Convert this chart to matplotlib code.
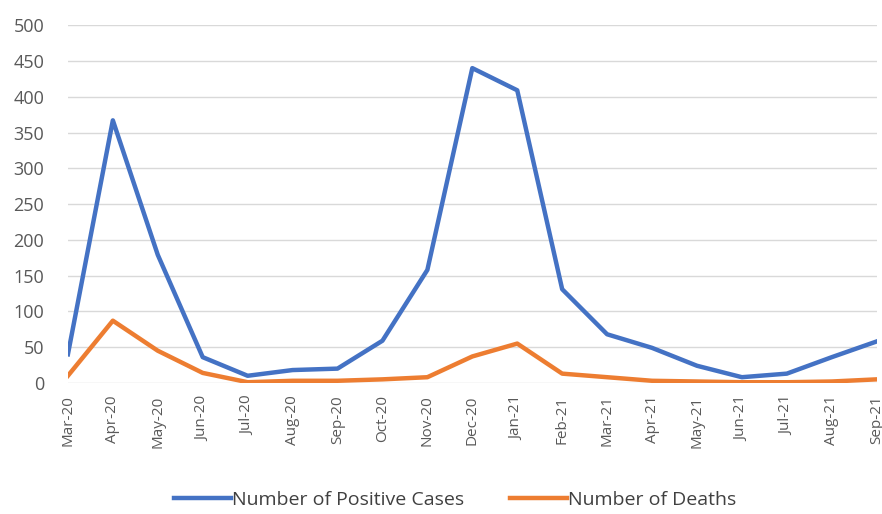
import matplotlib.pyplot as plt

months = ["Mar-20", "Apr-20", "May-20", "Jun-20", "Jul-20", "Aug-20", "Sep-20",
          "Oct-20", "Nov-20", "Dec-20", "Jan-21", "Feb-21", "Mar-21", "Apr-21",
          "May-21", "Jun-21", "Jul-21", "Aug-21", "Sep-21"]
positive_cases = [40, 367, 179, 36, 10, 18, 20, 59, 158, 440, 409, 131, 68, 49, 24, 8, 13, 36, 58]
deaths = [10, 87, 45, 14, 1, 3, 3, 5, 8, 37, 55, 13, 8, 3, 2, 1, 1, 2, 5]

plt.rcParams['font.family'] = ['Open Sans', 'DejaVu Sans']

fig = plt.figure(figsize=(8.82, 5.14), dpi=100)
ax = fig.add_axes([0.077, 0.255, 0.917, 0.696])

x = list(range(len(months)))
ax.plot(x, positive_cases, color="#4472C4", lw=3.2, label="Number of Positive Cases",
        solid_joinstyle="round")
ax.plot(x, deaths, color="#ED7D31", lw=3.2, label="Number of Deaths",
        solid_joinstyle="round")

ax.set_xlim(0, len(months) - 1)
ax.set_ylim(0, 500)
ax.set_yticks(range(0, 501, 50))
ax.set_xticks(x)
ax.set_xticklabels(months, rotation=90)
ax.tick_params(axis="both", length=0, colors="#595959")
ax.tick_params(axis="y", pad=17, labelsize=13)
ax.tick_params(axis="x", pad=9, labelsize=11)
ax.grid(axis="y", color="#D9D9D9", lw=1)
ax.set_axisbelow(True)
for s in ax.spines.values():
    s.set_visible(False)

fig.legend(loc="center", bbox_to_anchor=(0.516, 0.027), ncol=2, frameon=False,
           fontsize=14, handlelength=2.9, handletextpad=0.05, columnspacing=2.4,
           labelcolor="#404040")

plt.savefig("out.png", dpi=100)
